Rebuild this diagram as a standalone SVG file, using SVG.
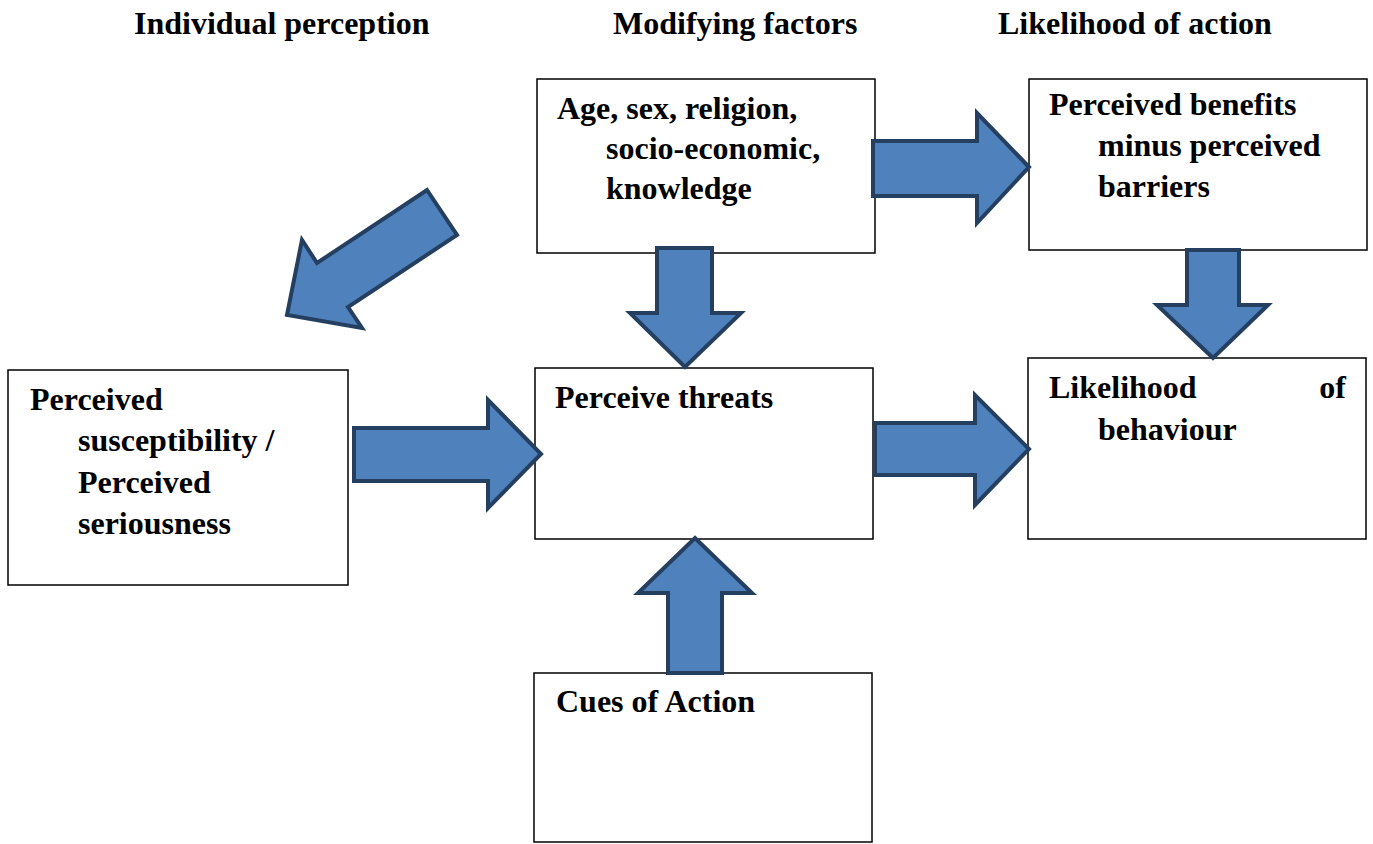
<svg xmlns="http://www.w3.org/2000/svg" width="1373" height="844" viewBox="0 0 1373 844">
<style>
.box{fill:#fff;stroke:#000;stroke-width:1.5}
.arr{fill:#4F81BD;stroke:#243F60;stroke-width:4;stroke-linejoin:miter}
.t{font-family:'Liberation Serif','Times New Roman','DejaVu Serif',serif;font-weight:bold;font-size:32px;fill:#000}
</style>
<rect width="1373" height="844" fill="#fff"/>
<g id="headers" class="t">
<text x="134" y="34">Individual perception</text>
<text x="613" y="34">Modifying factors</text>
<text x="998" y="34">Likelihood of action</text>
</g>
<g id="node-modifying" class="t">
<rect class="box" x="537" y="79" width="338" height="174"/>
<text x="557" y="119">Age, sex, religion,</text>
<text x="606" y="159">socio-economic,</text>
<text x="606" y="199">knowledge</text>
</g>
<g id="node-benefits" class="t">
<rect class="box" x="1029" y="79" width="338" height="171"/>
<text x="1049" y="115">Perceived benefits</text>
<text x="1098" y="156">minus perceived</text>
<text x="1098" y="197">barriers</text>
</g>
<g id="node-susceptibility" class="t">
<rect class="box" x="8" y="370" width="340" height="215"/>
<text x="30" y="410">Perceived</text>
<text x="78" y="451">susceptibility /</text>
<text x="78" y="493">Perceived</text>
<text x="78" y="534">seriousness</text>
</g>
<g id="node-threats" class="t">
<rect class="box" x="535" y="368" width="338" height="171"/>
<text x="555" y="408">Perceive threats</text>
</g>
<g id="node-likelihood" class="t">
<rect class="box" x="1028" y="358" width="338" height="181"/>
<text x="1049" y="398">Likelihood</text>
<text x="1346" y="398" text-anchor="end">of</text>
<text x="1098" y="440">behaviour</text>
</g>
<g id="node-cues" class="t">
<rect class="box" x="534" y="673" width="338" height="169"/>
<text x="556" y="712">Cues of Action</text>
</g>
<g id="connectors">
<polygon class="arr" points="427,190 457,235 348,307 362,328 287,315 302,240 317,263"/>
<polygon class="arr" points="873,141 977,141 977,113 1029,167 977,223 977,196 873,196"/>
<polygon class="arr" points="657,248 712,248 712,313 741,313 685,367 630,313 657,313"/>
<polygon class="arr" points="1187,250 1239,250 1239,305 1268,305 1213,358 1157,305 1187,305"/>
<polygon class="arr" points="354,428 488,428 488,400 541,454 488,508 488,481 354,481"/>
<polygon class="arr" points="875,423 975,423 975,395 1029,449 975,505 975,475 875,475"/>
<polygon class="arr" points="668,673 722,673 722,593 752,593 695,538 638,593 668,593"/>
</g>
</svg>
